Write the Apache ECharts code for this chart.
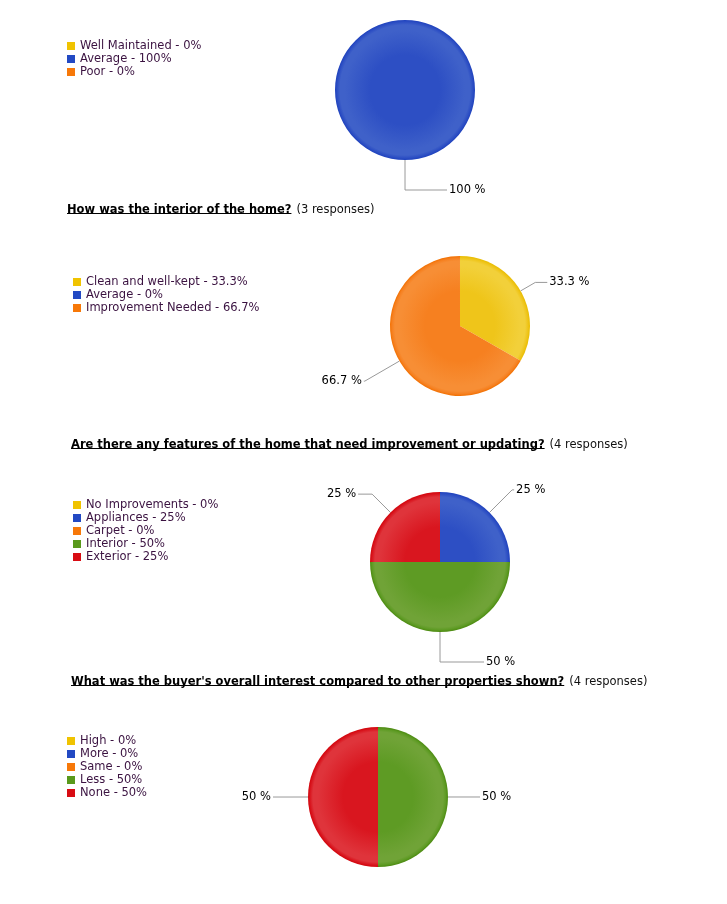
<!DOCTYPE html>
<html>
<head>
<meta charset="utf-8">
<title>Showing feedback</title>
<script src="https://cdn.jsdelivr.net/npm/echarts@6/dist/echarts.min.js"></script>
<style>
	html, body { margin: 0; padding: 0; background: #fff; }
	#main { width: 727px; height: 904px; }
</style>
</head>
<body>
<div id="main"></div>
<script>
// 数据
var exteriorNames = ['Well Maintained', 'Average', 'Poor'];
var exteriorValues = [0, 100, 0];

var interiorNames = ['Clean and well-kept', 'Average', 'Improvement Needed'];
var interiorValues = [33.3, 0, 66.7];

var featureNames = ['No Improvements', 'Appliances', 'Carpet', 'Interior', 'Exterior'];
var featureValues = [0, 25, 0, 50, 25];

var interestNames = ['High', 'More', 'Same', 'Less', 'None'];
var interestValues = [0, 0, 0, 50, 50];

var questions = [
	'How was the interior of the home?',
	'Are there any features of the home that need improvement or updating?',
	"What was the buyer's overall interest compared to other properties shown?"
];
var responses = [3, 4, 4];

// 颜色: 黄 蓝 橙 绿 红
var palette = [
	{ icon: '#f0c300', base: '#efc51a', light: '#f2d03a', dark: '#e8bc00' },
	{ icon: '#2249c3', base: '#2d4fc4', light: '#3f61c9', dark: '#1f42bd' },
	{ icon: '#f77808', base: '#f68020', light: '#f78e35', dark: '#f27000' },
	{ icon: '#59991b', base: '#5e9b24', light: '#70a337', dark: '#4c8a10' },
	{ icon: '#d80c13', base: '#d9161f', light: '#df343b', dark: '#d2050c' }
];

var FONT = '"DejaVu Sans", Verdana, sans-serif';
var FS = 11.5;
var R = 70;

// 布局 (每个饼图的位置 & 引导线长度)
var layouts = [
	{ center: [405, 90], legend: [67, 40], lines: [[0, 0], [30, 42], [0, 0]] },
	{ center: [460, 326], legend: [73, 276], lines: [[17, 12], [0, 0], [40, 1]] },
	{ center: [440, 562], legend: [73, 499], lines: [[0, 0], [32, 2], [0, 0], [30, 44], [26, 14]] },
	{ center: [378, 797], legend: [67, 735], lines: [[0, 0], [0, 0], [0, 0], [15, 17], [20, 15]] }
];
var titlePos = [[67, 201], [71, 436], [71, 673]];

var charts = [
	{ names: exteriorNames, values: exteriorValues },
	{ names: interiorNames, values: interiorValues },
	{ names: featureNames, values: featureValues },
	{ names: interestNames, values: interestValues }
];

function shade(p, c) {
	return {
		type: 'radial', x: c[0], y: c[1], r: R, global: true,
		colorStops: [
			{ offset: 0, color: p.base },
			{ offset: 0.5, color: p.base },
			{ offset: 0.86, color: p.light },
			{ offset: 0.93, color: p.light },
			{ offset: 0.97, color: p.base },
			{ offset: 1, color: p.dark }
		]
	};
}

var series = [], legends = [];
charts.forEach(function (ch, k) {
	var lay = layouts[k];
	var data = ch.names.map(function (n, i) {
		var empty = ch.values[i] === 0;
		return {
			name: n,
			value: ch.values[i],
			itemStyle: { color: shade(palette[i], lay.center) },
			label: { show: !empty },
			labelLine: { show: !empty, length: lay.lines[i][0], length2: lay.lines[i][1] }
		};
	});
	series.push({
		type: 'pie',
		center: lay.center,
		radius: R,
		startAngle: 90.01,
		clockwise: true,
		avoidLabelOverlap: false,
		silent: true,
		emphasis: { disabled: true },
		label: {
			formatter: '{c} %',
			color: '#000',
			fontFamily: FONT,
			fontSize: FS,
			distanceToLabelLine: 2
		},
		labelLine: { lineStyle: { color: '#999', width: 1 } },
		data: data
	});
	legends.push({
		orient: 'vertical',
		left: lay.legend[0],
		top: lay.legend[1],
		padding: 0,
		itemGap: 1,
		itemWidth: 8,
		itemHeight: 8,
		icon: 'rect',
		selectedMode: false,
		textStyle: { color: '#3a1240', fontFamily: FONT, fontSize: FS },
		data: ch.names.map(function (n, i) {
			return { name: n, itemStyle: { color: palette[i].icon } };
		}),
		formatter: function (name) {
			var idx = ch.names.indexOf(name);
			return name + ' - ' + ch.values[idx] + '%';
		}
	});
});

// 标题 & 下划线
var ctx = document.createElement('canvas').getContext('2d');
ctx.font = 'bold ' + FS + 'px ' + FONT;
var titles = [], graphics = [];
questions.forEach(function (q, i) {
	var p = titlePos[i];
	titles.push({
		left: p[0],
		top: p[1],
		padding: 0,
		text: '{b|' + q + '} {n|(' + responses[i] + ' responses)}',
		textStyle: {
			fontWeight: 'normal',
			rich: {
				b: { fontFamily: FONT, fontSize: FS, fontWeight: 'bold', color: '#000', lineHeight: 14 },
				n: { fontFamily: FONT, fontSize: FS, fontWeight: 'normal', color: '#111', lineHeight: 14 }
			}
		}
	});
	var w = ctx.measureText(q).width;
	graphics.push({
		type: 'line',
		silent: true,
		shape: { x1: p[0], y1: p[1] + 12.5, x2: p[0] + w, y2: p[1] + 12.5 },
		style: { stroke: '#000', lineWidth: 1 }
	});
});

var myChart = echarts.init(document.getElementById('main'));
myChart.setOption({
	animation: false,
	title: titles,
	legend: legends,
	graphic: graphics,
	series: series
});
</script>
</body>
</html>
